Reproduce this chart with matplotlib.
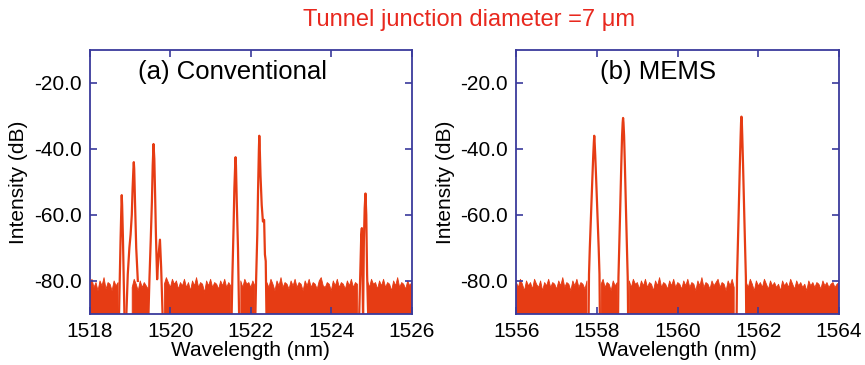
import numpy as np
import matplotlib
matplotlib.use("Agg")
import matplotlib.pyplot as plt

plt.rcParams['font.family'] = ['Liberation Sans', 'DejaVu Sans']

nan = np.nan

# noise floor top edge, sampled every 0.05 nm (nan = no floor under a peak)
noise_step = 0.05
noise_a_start = 1518.0
noise_a = [
    -81, -79.5, -82, -80.5, -83, -80, -81.5, -79, -82.5, -80.5,
    -81, -83, -80, -81.5, -80.5, nan, nan, nan, nan, nan,
    nan, -82, -79.5, -81, -83, -80, -82, -80.5, -81.5, -82.5,
    nan, nan, nan, nan, nan, nan, nan, -81, -79, -80.5,
    -82, -79.5, -81, -80, -82.5, -80.5, -81.5, -79.5, -82, -80.5,
    -83, -80, -81.5, -79, -82, -80.5, -81, -83.5, -80, -81.5,
    -79.5, -82, -80.5, -81, -82.5, -80, -81.5, -79.5, -82, -80.5,
    -81.5, nan, nan, nan, nan, -80, -82, -79.5, -81, -80.5,
    -82, -80, -81.5, nan, nan, nan, nan, nan, -80.5, -82,
    -79.5, -81, -83, -80, -81.5, -79, -82, -80.5, -81, -82.5,
    -80, -81.5, -79.5, -82, -80.5, -81, -83, -80, -81.5, -79.5,
    -82, -80.5, -81, -82.5, -80, -79, -81.5, -82, -80.5, -81,
    -83, -80, -81.5, -79.5, -82, -80.5, -81, -82.5, -80, -81.5,
    -79.5, -82, -80.5, -81, nan, nan, nan, nan, -80, -82,
    -79.5, -81, -80.5, -82.5, -80, -81.5, -79.5, -82, -80.5, -81,
    -83, -80, -81.5, -79, -82, -80.5, -81, -82.5, -80, -81.5, -80.5,
]

noise_b_start = 1556.0
noise_b = [
    -80.5, -82, -79.5, -81, -83, -80, -81.5, -80.5, -82.5, -79.5,
    -81, -82, -80, -83, -80.5, -81.5, -79.5, -82, -80.5, -81,
    -82.5, -80, -81.5, -79, -82, -80.5, -81, -83, -80, -81.5,
    -79.5, -82, -80.5, -81, -82.5, -80, nan, nan, nan, nan,
    nan, nan, -81, -79.5, -82, -80.5, -81, -83, -80, -81.5,
    -80.5, nan, nan, nan, nan, nan, -80, -82, -79.5, -81,
    -80.5, -82.5, -80, -81.5, -79.5, -82, -80.5, -81, -83, -80,
    -81.5, -79, -82, -80.5, -81, -82.5, -80, -81.5, -79.5, -82,
    -80.5, -81, -82.5, -80, -81.5, -79.5, -82, -80.5, -81, -83,
    -80, -81.5, -79, -82, -80.5, -81, -82.5, -80, -81.5, -80.5,
    -79.5, -82, -80.5, -81, -83, -80, -81.5, -79.5, -82, nan,
    nan, nan, nan, nan, -80.5, -82, -79.5, -81, -83, -80,
    -81.5, -80.5, -82, -79.5, -81, -82.5, -80, -81.5, -80.5, -82,
    -81, -83, -80, -81.5, -80.5, -82, -79.5, -81, -82.5, -80,
    -81.5, -80.5, -82, -81, -83, -80, -81.5, -80.5, -82, -80.5,
    -81, -82.5, -80, -81.5, -80.5, -82, -81, -80.5, -82, -81, -80.5,
]

# lasing peaks: (wavelength nm, intensity dB)
peaks_a = [
    ([1518.72, 1518.74, 1518.76, 1518.78, 1518.79, 1518.80, 1518.82, 1518.84, 1518.86],
     [-92, -80, -68, -58, -54, -57, -67, -80, -92]),
    ([1518.90, 1518.94, 1518.98, 1519.01, 1519.04, 1519.06, 1519.08, 1519.09, 1519.10, 1519.12, 1519.15, 1519.19],
     [-92, -78, -70, -66, -60, -52, -46, -44, -46, -56, -70, -80]),
    ([1519.45, 1519.48, 1519.51, 1519.54, 1519.56, 1519.58, 1519.60, 1519.62, 1519.64, 1519.67, 1519.70, 1519.74, 1519.77, 1519.81],
     [-92, -79, -68, -56, -45, -38.5, -43, -54, -66, -79.5, -73, -67.5, -76, -92]),
    ([1521.52, 1521.54, 1521.57, 1521.59, 1521.61, 1521.62, 1521.63, 1521.65, 1521.68, 1521.71],
     [-92, -79, -64, -52, -45, -42.5, -45, -56, -70, -92]),
    ([1522.11, 1522.13, 1522.16, 1522.18, 1522.20, 1522.21, 1522.22, 1522.24, 1522.27, 1522.30, 1522.33, 1522.35, 1522.37, 1522.39],
     [-92, -80, -66, -52, -40, -36, -39, -48, -57, -62, -61.5, -72, -74, -92]),
    ([1524.69, 1524.72, 1524.745, 1524.76, 1524.79, 1524.81, 1524.83, 1524.85, 1524.87, 1524.89, 1524.92],
     [-92, -78, -66, -64, -92, -68, -58, -53.5, -60, -78, -92]),
]

peaks_b = [
    ([1557.79, 1557.80, 1557.82, 1557.85, 1557.88, 1557.905, 1557.92, 1557.93, 1557.94, 1557.955, 1557.98, 1558.01, 1558.04, 1558.06, 1558.07],
     [-92, -78, -70, -60, -50, -42, -38, -36, -38, -42, -50, -60, -70, -78, -92]),
    ([1558.52, 1558.53, 1558.545, 1558.57, 1558.60, 1558.62, 1558.635, 1558.645, 1558.655, 1558.67, 1558.69, 1558.72, 1558.745, 1558.76, 1558.77],
     [-92, -79, -72, -60, -45, -36, -32, -30.6, -32, -36, -45, -60, -72, -79, -92]),
    ([1561.46, 1561.47, 1561.485, 1561.51, 1561.54, 1561.56, 1561.57, 1561.58, 1561.59, 1561.60, 1561.62, 1561.65, 1561.675, 1561.69, 1561.70],
     [-92, -79, -72, -60, -45, -36, -32, -30.2, -32, -36, -45, -60, -72, -79, -92]),
]

xlim_a = (1518, 1526)
xlim_b = (1556, 1564)
xticks_a = [1518, 1520, 1522, 1524, 1526]
xticks_b = [1556, 1558, 1560, 1562, 1564]
yticks = [-20, -40, -60, -80]

trace_color = '#e63c14'
frame_color = '#3a3a9c'


def draw_panel(ax, start, noise, peaks, xlim, xticks, label, label_x):
    x = start + noise_step * np.arange(len(noise))
    y = np.array(noise, dtype=float)
    ax.fill_between(x, -95, y, color=trace_color, linewidth=0.6, edgecolor=trace_color)
    for wl, db in peaks:
        ax.plot(wl, db, color=trace_color, lw=1.6)

    ax.set_xlim(*xlim)
    ax.set_ylim(-90, -10)
    ax.set_xticks(xticks)
    ax.set_yticks(yticks)
    ax.set_yticklabels(['%.1f' % v for v in yticks])
    ax.tick_params(direction='in', length=5, width=1.2, color=frame_color,
                   top=True, right=True, labelsize=15, pad=6)
    for sp in ax.spines.values():
        sp.set_color(frame_color)
        sp.set_linewidth(1.3)
    ax.set_xlabel('Wavelength (nm)', fontsize=15, labelpad=0)
    ax.set_ylabel('Intensity (dB)', fontsize=15, labelpad=4)
    ax.text(label_x, 0.915, label, transform=ax.transAxes, fontsize=18.5,
            ha='left', va='center')


fig = plt.figure(figsize=(8.65, 3.65), dpi=100)
ax_a = fig.add_axes([0.104, 0.14, 0.372, 0.723])
ax_b = fig.add_axes([0.597, 0.14, 0.373, 0.723])

draw_panel(ax_a, noise_a_start, noise_a, peaks_a, xlim_a, xticks_a, '(a) Conventional', 0.15)
draw_panel(ax_b, noise_b_start, noise_b, peaks_b, xlim_b, xticks_b, '(b) MEMS', 0.26)

fig.text(0.542, 0.945, 'Tunnel junction diameter =7 \u03bcm', color='#e8281e',
         fontsize=17, ha='center', va='center')

fig.savefig('out.png', dpi=100)
